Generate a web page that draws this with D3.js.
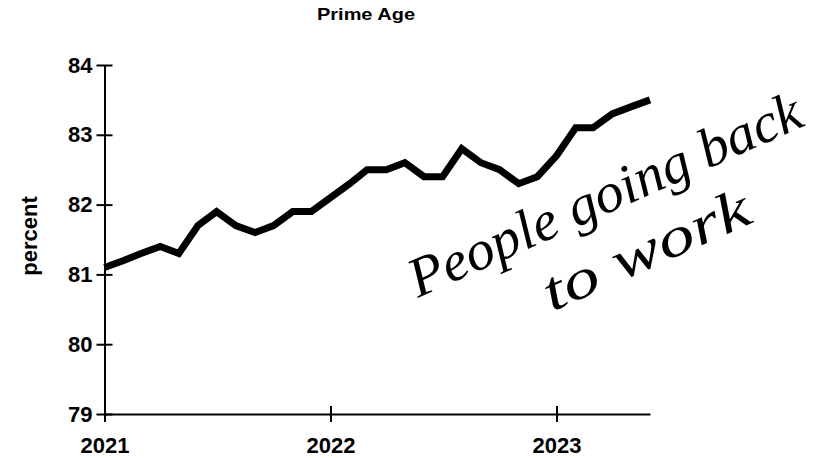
<!DOCTYPE html>
<html><head><meta charset="utf-8">
<script src="https://cdn.jsdelivr.net/npm/d3@7/dist/d3.min.js"></script>
<style>body{margin:0;background:#fff}svg{display:block}</style>
</head><body><svg id="c" width="826" height="458"></svg>
<script>
// ---- data ----
const months = ["2021-01","2021-02","2021-03","2021-04","2021-05","2021-06","2021-07","2021-08","2021-09","2021-10","2021-11","2021-12",
                "2022-01","2022-02","2022-03","2022-04","2022-05","2022-06","2022-07","2022-08","2022-09","2022-10","2022-11","2022-12",
                "2023-01","2023-02","2023-03","2023-04","2023-05","2023-06"];
const values = [81.1,81.2,81.3,81.4,81.3,81.7,81.9,81.7,81.6,81.7,81.9,81.9,
                82.1,82.3,82.5,82.5,82.6,82.4,82.4,82.8,82.6,82.5,82.3,82.4,
                82.7,83.1,83.1,83.3,83.4,83.5];
const yTicks = [79,80,81,82,83,84];
const xTickLabels = ["2021","2022","2023"];
const subtitleText = "Prime Age";
const yLabel = "percent";
const noteLine1 = "People going back";
const noteLine2 = "to work";

// ---- drawing ----
const parse = d3.timeParse("%Y-%m");
const data = months.map((m,i)=>({date:parse(m), value:values[i]}));
const svg = d3.select("#c");
const font = "'Liberation Sans', Arial, Helvetica, sans-serif";

const x = d3.scaleTime().domain([parse(months[0]), parse(months[months.length-1])]).range([104.5, 650]);
const y = d3.scaleLinear().domain([79,84]).range([414, 65]);

svg.append("text").attr("x",366).attr("y",20).attr("text-anchor","middle")
  .attr("font-family",font).attr("font-weight","bold").attr("font-size",17)
  .attr("textLength",98).attr("lengthAdjust","spacingAndGlyphs")
  .text(subtitleText);

// y axis
const yAxis = svg.append("g").attr("transform",`translate(${x.range()[0]},0)`)
  .call(d3.axisLeft(y).tickValues(yTicks).tickSize(8).tickSizeOuter(0).tickPadding(4).tickFormat(d3.format("d")));
yAxis.select(".domain").attr("stroke","#000").attr("stroke-width",2);
yAxis.selectAll(".tick line").attr("x1",-8).attr("x2",8).attr("stroke","#000").attr("stroke-width",2);
yAxis.selectAll(".tick text").attr("x",-12).attr("fill","#000")
  .attr("font-family",font).attr("font-weight","bold").attr("font-size",22);

// x axis
const xTickDates = xTickLabels.map(s=>d3.timeParse("%Y")(s));
const xAxis = svg.append("g").attr("transform",`translate(0,${y(79)})`)
  .call(d3.axisBottom(x).tickValues(xTickDates).tickSize(8).tickSizeOuter(0).tickPadding(8)
    .tickFormat((d,i)=>xTickLabels[i]));
xAxis.select(".domain").attr("stroke","#000").attr("stroke-width",2);
xAxis.selectAll(".tick line").attr("y1",-8).attr("y2",8).attr("stroke","#000").attr("stroke-width",2);
xAxis.selectAll(".tick text").attr("fill","#000").attr("y",23).attr("dy","0.71em")
  .attr("font-family",font).attr("font-weight","bold").attr("font-size",22);

// y label
svg.append("text").attr("transform","translate(37,236) rotate(-90)").attr("text-anchor","middle")
  .attr("font-family",font).attr("font-weight","bold").attr("font-size",22)
  .text(yLabel);

// line
const line = d3.line().x(d=>x(d.date)).y(d=>y(d.value));
svg.append("path").datum(data).attr("d",line)
  .attr("fill","none").attr("stroke","#000").attr("stroke-width",7)
  .attr("stroke-linejoin","miter").attr("stroke-miterlimit",3);

// handwritten note
const hand = "'Liberation Serif', 'DejaVu Serif', serif";
svg.append("text").attr("transform","translate(418,298) rotate(-24)")
  .attr("font-family",hand).attr("font-style","italic").attr("font-size",56)
  .attr("textLength",425).attr("lengthAdjust","spacingAndGlyphs")
  .text(noteLine1);
svg.append("text").attr("transform","translate(552,312) rotate(-24)")
  .attr("font-family",hand).attr("font-style","italic").attr("font-size",56)
  .attr("textLength",222).attr("lengthAdjust","spacingAndGlyphs")
  .text(noteLine2);
</script>
</body></html>
